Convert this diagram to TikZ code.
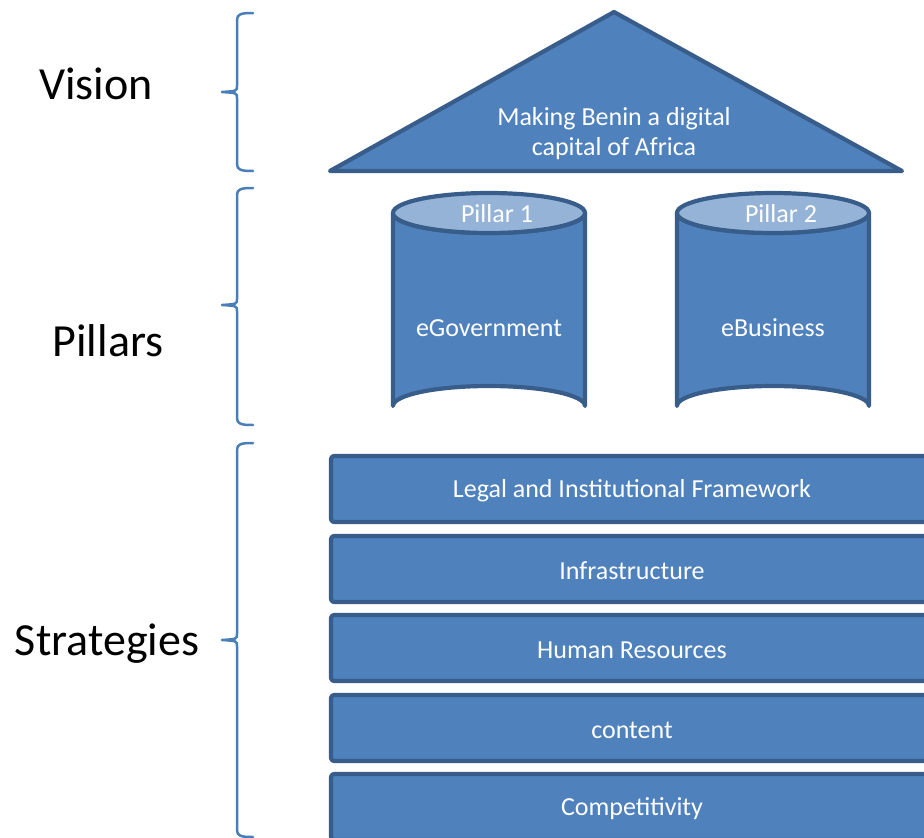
\documentclass[tikz,border=0pt]{standalone}
\usepackage{fontspec}
\setmainfont{Carlito}
\definecolor{fillblue}{HTML}{4F81BD}
\definecolor{edgeblue}{HTML}{385D8A}
\definecolor{capblue}{HTML}{95B3D7}
\definecolor{bracecol}{HTML}{4A7EBB}
\begin{document}
\begin{tikzpicture}[x=1pt,y=-1pt,
  shapeline/.style={draw=edgeblue,line width=4.2pt,line join=round,fill=fillblue},
  layerbox/.style={shapeline,rounded corners=3pt},
  inner/.style={text=white,font=\fontsize{26}{30}\selectfont,align=center,inner sep=0pt},
  sidelabel/.style={text=black,font=\fontsize{46}{52}\selectfont,inner sep=0pt},
  bracket/.style={draw=bracecol,line width=2.5pt,line cap=round,line join=round}]
\useasboundingbox (0,0) rectangle (924,838);
\begin{scope}
\clip (0,0) rectangle (924,838);

% roof of the house
\draw[shapeline] (330,171) -- (614,12) -- (902,171) -- cycle;
\node[inner] (vision) at (614,134) {Making Benin a digital\\capital of Africa};

% pillars drawn as cylinders
\foreach \cx/\nm/\top/\body in {489/p1/Pillar 1/eGovernment, 773/p2/Pillar 2/eBusiness}{
  \draw[shapeline] (\cx-96,213) -- (\cx-96,406) arc[start angle=180,end angle=360,x radius=96,y radius=20] -- (\cx+96,213) arc[start angle=0,end angle=180,x radius=96,y radius=20];
  \draw[shapeline,fill=capblue] (\cx,213) ellipse[x radius=96,y radius=20];
  \node[inner] (\nm top) at (\cx+8,214) {\top};
  \node[inner] (\nm) at (\cx,328) {\body};
}

% strategy layers
\foreach \y/\nm/\txt in {456/s1/Legal and Institutional Framework, 536/s2/Infrastructure, 615/s3/Human Resources, 695/s4/content, 774/s5/Competitivity}{
  \draw[layerbox] (331,\y) rectangle (934,\y+66);
  \node[inner] (\nm) at (632,\y+35) {\txt};
}
\end{scope}

% braces on the left
\draw[bracket] (253,13) .. controls (241,13) and (237,14) .. (237,20) -- (237,86) .. controls (237,91) .. (222,92) .. controls (237,93) .. (237,98) -- (237,164) .. controls (237,170) and (241,171) .. (253,171);
\draw[bracket] (253,188) .. controls (241,188) and (237,189) .. (237,195) -- (237,299) .. controls (237,304) .. (222,305) .. controls (237,306) .. (237,311) -- (237,418) .. controls (237,424) and (241,425) .. (253,425);
\draw[bracket] (253,443) .. controls (241,443) and (237,444) .. (237,450) -- (237,634) .. controls (237,639) .. (222,640) .. controls (237,641) .. (237,646) -- (237,830) .. controls (237,836) and (241,837) .. (253,837);

\node[sidelabel,anchor=base] (lvision) at (96,99) {Vision};
\node[sidelabel,anchor=base] (lpillars) at (108,356) {Pillars};
\node[sidelabel,anchor=base] (lstrat) at (107,655) {Strategies};
\end{tikzpicture}
\end{document}
